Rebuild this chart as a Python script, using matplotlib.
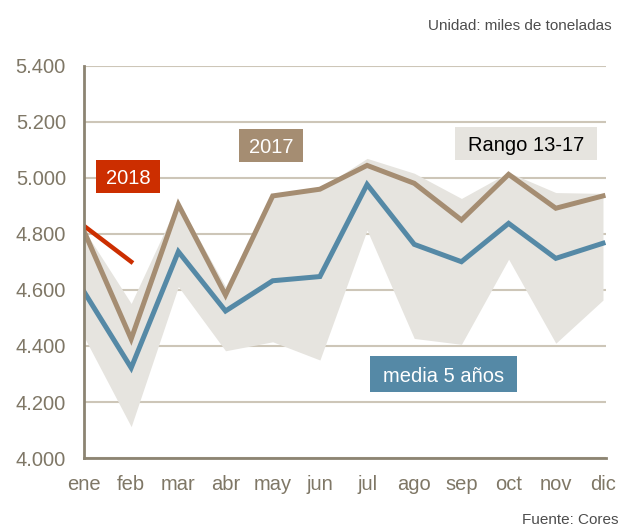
import numpy as np
import matplotlib
matplotlib.use("Agg")
import matplotlib.pyplot as plt
from matplotlib.patches import Rectangle

plt.rcParams['font.family'] = ['Liberation Sans', 'DejaVu Sans']

meses = ['ene', 'feb', 'mar', 'abr', 'may', 'jun', 'jul', 'ago', 'sep', 'oct', 'nov', 'dic']
serie_2017 = [4810, 4425, 4905, 4582, 4936, 4960, 5045, 4981, 4850, 5013, 4892, 4936]
media_5 = [4594, 4322, 4737, 4525, 4633, 4648, 4977, 4763, 4701, 4838, 4713, 4767]
serie_2018 = [4829, 4701]
rango_max = [4815, 4552, 4915, 4612, 4940, 4962, 5070, 5017, 4927, 5020, 4948, 4945]
rango_min = [4433, 4112, 4612, 4383, 4415, 4350, 4814, 4427, 4406, 4710, 4410, 4564]
yticks = [4000, 4200, 4400, 4600, 4800, 5000, 5200, 5400]

W, H = 626, 528
c_2017 = '#a58d72'
c_media = '#5589a6'
c_2018 = '#cc2e00'
c_rango = '#e6e4df'
c_txt = '#7f7766'

fig = plt.figure(figsize=(W / 100, H / 100), dpi=100)
ax = fig.add_axes([84 / W, 1 - 458 / H, 522 / W, 392 / H])

x = np.arange(len(meses))
ax.fill_between(x, rango_min, rango_max, color=c_rango, lw=0, zorder=2)
ax.plot(x, serie_2017, color=c_2017, lw=3.6, zorder=3, solid_joinstyle='miter')
ax.plot(x, media_5, color=c_media, lw=3.6, zorder=4, solid_joinstyle='miter')
ax.plot(x[:len(serie_2018)], serie_2018, color=c_2018, lw=3.2, zorder=5)

ax.set_xlim(0, 11.064)
ax.set_ylim(4000, 5400)
ax.set_yticks(yticks)
ax.set_yticklabels(['{:,}'.format(v).replace(',', '.') for v in yticks])
ax.set_xticks(x)
ax.set_xticklabels(meses)
ax.tick_params(axis='both', length=0, labelsize=14.5, colors=c_txt)
ax.tick_params(axis='y', pad=13)
ax.tick_params(axis='x', pad=12)
ax.grid(axis='y', color='#cdc6b8', lw=1.5, zorder=1)
ax.set_axisbelow(True)
for s in ['top', 'right']:
    ax.spines[s].set_visible(False)
for s in ['left', 'bottom']:
    ax.spines[s].set_color('#8c8472')
    ax.spines[s].set_linewidth(2)
    ax.spines[s].set_zorder(6)


def caja(x0, y0, x1, y1, texto, fondo, color):
    fig.add_artist(Rectangle((x0 / W, 1 - y1 / H), (x1 - x0) / W, (y1 - y0) / H,
                             transform=fig.transFigure, facecolor=fondo, edgecolor='none', zorder=10))
    fig.text((x0 + x1) / 2 / W, 1 - (y0 + y1) / 2 / H, texto, color=color, fontsize=14.5,
             ha='center', va='center_baseline', zorder=11)


caja(96, 160, 160, 193, '2018', c_2018, 'white')
caja(239, 129, 303, 162, '2017', c_2017, 'white')
caja(455, 127, 597, 160, 'Rango 13-17', c_rango, 'black')
caja(370, 356, 517, 392, 'media 5 años', c_media, 'white')

fig.text(612 / W, 1 - 26 / H, 'Unidad: miles de toneladas', ha='right', va='center',
         fontsize=11, color='#4d4d4d')
fig.text(618 / W, 1 - 520 / H, 'Fuente: Cores', ha='right', va='center',
         fontsize=11, color='#4d4d4d')

fig.savefig('out.png', dpi=100)
